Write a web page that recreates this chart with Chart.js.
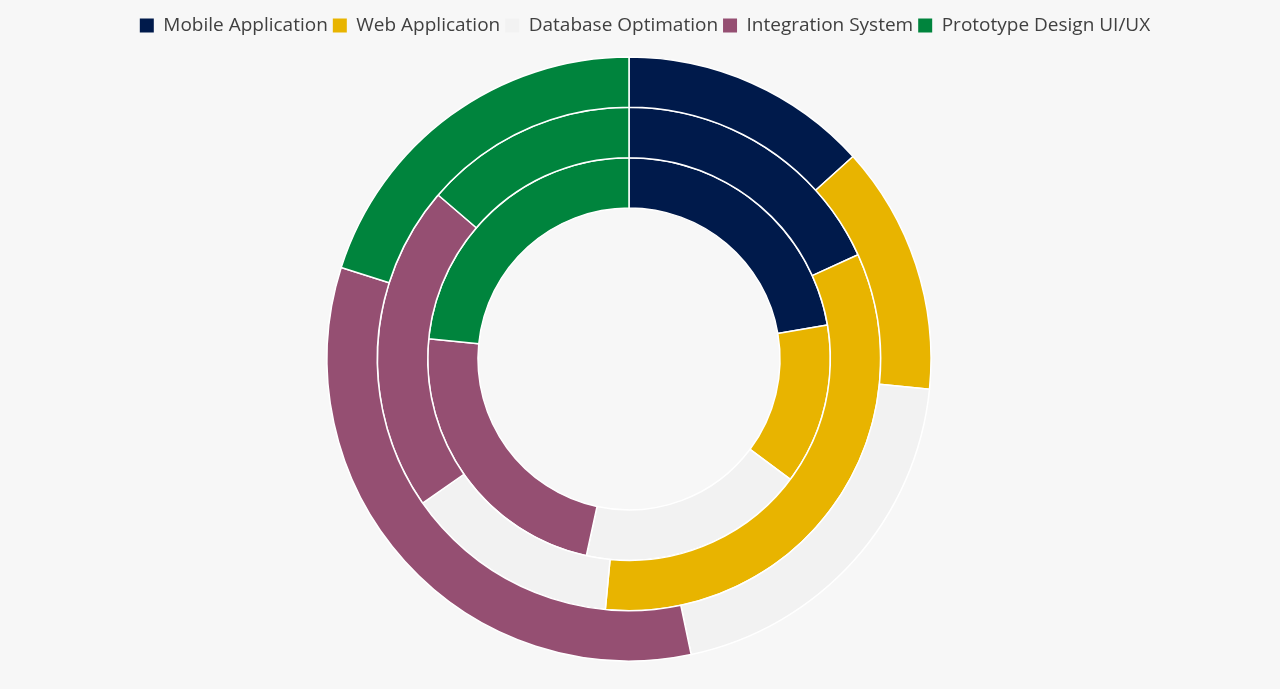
<!DOCTYPE html>
<html>
<head>
<meta charset="utf-8">
<script src="https://cdn.jsdelivr.net/npm/chart.js@4/dist/chart.umd.min.js"></script>
<style>
  html, body { margin: 0; padding: 0; background: #f7f7f7; }
  #wrap { width: 1280px; height: 689px; position: relative; }
</style>
</head>
<body>
<div id="wrap"><canvas id="c" width="1280" height="689"></canvas></div>
<script>
const categories = ["Mobile Application", "Web Application", "Database Optimation", "Integration System", "Prototype Design UI/UX"];
const colors = ["#001a4b", "#e8b400", "#f2f2f2", "#954f72", "#00843d"];
// outermost ring first
const outerRing = [13.3, 13.3, 20.1, 33.2, 20.1];
const middleRing = [18.2, 33.3, 13.8, 21.0, 13.7];
const innerRing = [22.3, 12.9, 18.2, 23.2, 23.4];

const ds = (data) => ({
  data: data,
  backgroundColor: colors,
  borderColor: "#ffffff",
  borderWidth: 1.5,
  hoverOffset: 0
});

const legendShift = {
  id: "legendShift",
  afterLayout(chart) {
    if (chart.legend) {
      chart.legend.left += 16;
      chart.legend.right += 16;
    }
  }
};

new Chart(document.getElementById("c"), {
  type: "doughnut",
  data: {
    labels: categories,
    datasets: [ds(outerRing), ds(middleRing), ds(innerRing)]
  },
  plugins: [legendShift],
  options: {
    responsive: false,
    animation: false,
    events: [],
    cutout: "50%",
    radius: 302,
    layout: { padding: { top: 11, bottom: 16, left: 0, right: 22 } },
    plugins: {
      tooltip: { enabled: false },
      legend: {
        position: "top",
        labels: {
          boxWidth: 14,
          boxHeight: 14,
          padding: 5,
          color: "#404040",
          font: { family: "'Open Sans'", size: 19 },
          generateLabels(chart) {
            const items = Chart.overrides.doughnut.plugins.legend.labels.generateLabels(chart);
            items.forEach(it => { it.lineWidth = 0; it.strokeStyle = "rgba(0,0,0,0)"; });
            return items;
          }
        }
      }
    }
  }
});
</script>
</body>
</html>
